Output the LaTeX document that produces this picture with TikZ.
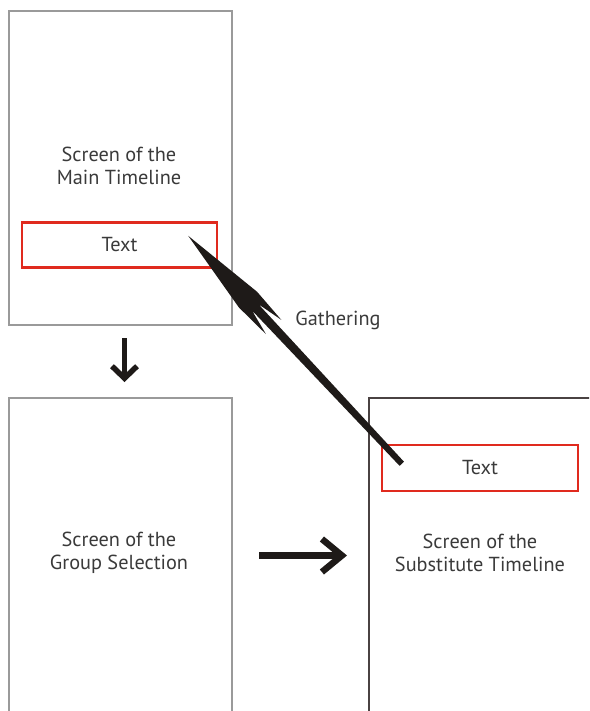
\documentclass[tikz,border=0pt]{standalone}
\usepackage{fontspec}
\setmainfont{PT Sans}
\usetikzlibrary{arrows.meta,calc}
\definecolor{frame}{HTML}{9A9A9A}
\definecolor{darkframe}{HTML}{4A4242}
\definecolor{hl}{HTML}{E02A1E}
\definecolor{ink}{HTML}{3A3A3A}
\definecolor{arrowink}{HTML}{1E1A18}
\begin{document}
\begin{tikzpicture}[x=1pt,y=-1pt,
  screen/.style={draw=frame, line width=2pt, rectangle, inner sep=0pt, anchor=north west},
  field/.style={draw=hl, line width=2.4pt, rectangle, inner sep=0pt, text=ink,
    font=\fontsize{20.3}{23}\selectfont},
  caption/.style={text=ink, align=center, font=\fontsize{20.3}{23}\selectfont},
  flow/.style={draw=arrowink, line width=5.5pt, -{Straight Barb[length=12pt,width=25pt]}},
  bigflow/.style={draw=arrowink, line width=6.5pt, -{Straight Barb[length=20pt,width=33pt]}}]
  \useasboundingbox (0,0) rectangle (589,711);
  \clip (0,0) rectangle (589,711);

  % screens
  \node[screen, minimum width=223pt, minimum height=314pt] (main) at (8,10) {};
  \node[screen, minimum width=223pt, minimum height=330pt] (group) at (8,397) {};
  \node[screen, draw=darkframe, minimum width=240pt, minimum height=330pt] (subst) at (368,397) {};

  % captions
  \node[caption] (cmain) at (119,166) {Screen of the\\Main Timeline};
  \node[caption] (cgroup) at (119,553) {Screen of the\\Group Selection};
  \node[caption] (csubst) at (480,553) {Screen of the\\Substitute Timeline};

  % highlighted text fields
  \node[field, minimum width=195pt, minimum height=45pt] (f1) at (119.5,245) {Text};
  \node[field, minimum width=196pt, minimum height=46pt] (f2) at (480,468) {Text};

  % screen transitions
  \draw[flow] ($(main.south)+(4,12)$) -- ($(group.north)+(4,-15)$);
  \draw[bigflow] ($(group.north east)+(26,158.5)$) -- ($(subst.north west)+(-21,158.5)$);

  % gathering arrow
  \coordinate (gtip) at ($(f1.north east)+(-30,14.5)$);
  \coordinate (gtail) at ($(f2.north west)+(21,20)$);
  \fill[arrowink] (gtip)
    -- ($(gtip)!88pt!(gtail)!12pt!90:(gtail)$)
    -- ($(gtip)!125pt!(gtail)!10.5pt!90:(gtail)$)
    -- ($(gtip)!98pt!(gtail)!4.5pt!90:(gtail)$)
    -- ($(gtail)!3pt!-90:(gtip)$)
    -- ($(gtail)!3pt!90:(gtip)$)
    -- ($(gtip)!98pt!(gtail)!4.5pt!-90:(gtail)$)
    -- ($(gtip)!125pt!(gtail)!10.5pt!-90:(gtail)$)
    -- ($(gtip)!87pt!(gtail)!12pt!-90:(gtail)$)
    -- cycle;
  \node[caption] (gather) at (338,320) {Gathering};
\end{tikzpicture}
\end{document}
